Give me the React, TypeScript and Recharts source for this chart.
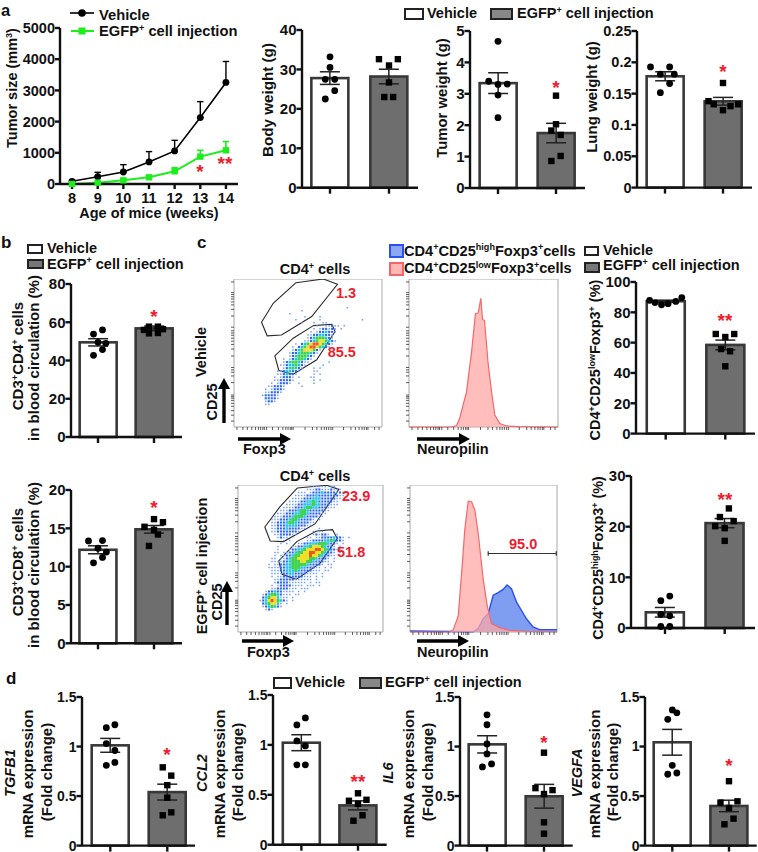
import React from 'react'
import { Area, Bar, ComposedChart, ErrorBar, Line, ReferenceArea, Scatter, XAxis, YAxis } from 'recharts'

const FONT = '"Liberation Sans", Arial, sans-serif'
const INK = '#111'
const RED = '#ee1c2e'
const EDGE = '#383838'
const GREY = '#6e6e6e'
const GREEN = '#1ded1d'

// tumor growth
const weeks = [8, 9, 10, 11, 12, 13, 14]
const vehicleTumor = [86, 235, 385, 706, 1060, 2130, 3255]
const vehicleTumorErr = [40, 140, 235, 332, 340, 510, 672]
const egfpTumor = [0, 43, 118, 214, 406, 877, 1080]
const egfpTumorErr = [0, 30, 40, 50, 118, 203, 280]
const tumorTicks = [0, 1000, 2000, 3000, 4000, 5000]

// bar panels: [vehicle, EGFP]
const bodyMeans = [27.8, 28.2]
const bodySems = [1.6, 1.85]
const bodyVehicle = [[1, 33.2], [1, 30.5], [0.92, 27.5], [1.08, 27.5], [1.08, 24.6], [0.92, 22.5]]
const bodyEgfp = [[1.83, 32.6], [2.15, 32.6], [2, 31], [2, 26.7], [1.92, 23], [2.07, 23]]

const tumorMeans = [3.34, 1.75]
const tumorSems = [0.33, 0.31]
const tumorVehicle = [[1, 4.67], [0.84, 3.4], [1.16, 3.31], [1, 3.3], [1, 2.96], [1, 2.24]]
const tumorEgfp = [[2, 2.94], [2, 2.03], [1.92, 1.83], [2.08, 1.69], [2.08, 1.02], [1.92, 0.86]]

const lungMeans = [0.1777, 0.1378]
const lungSems = [0.0072, 0.0062]
const lungVehicle = [[0.75, 0.1926], [1.08, 0.1926], [0.92, 0.181], [1.16, 0.181], [1.08, 0.166], [0.92, 0.1516]]
const lungEgfp = [[2, 0.167], [1.75, 0.138], [1.84, 0.133], [2.13, 0.13], [2.26, 0.133], [2, 0.1235]]

const cd4Means = [49.5, 56.8]
const cd4Sems = [1.9, 1.2]
const cd4Vehicle = [[0.92, 53.8], [1.08, 56], [1, 49.5], [1.14, 49], [1.08, 45.7], [0.92, 42.7]]
const cd4Egfp = [[1.91, 57.7], [2.07, 57.7], [1.82, 56], [2.16, 56.4], [1.91, 54.2], [2.07, 54.4]]

const cd8Means = [12.2, 14.87]
const cd8Sems = [0.52, 0.5]
const cd8Vehicle = [[0.83, 13.35], [1.08, 13.4], [1, 12.4], [1.15, 11.9], [1.08, 11.2], [0.92, 10.5]]
const cd8Egfp = [[2, 16.2], [2.16, 15.8], [1.83, 15.2], [2, 14.8], [2.07, 14.2], [1.91, 12.7]]

const lowMeans = [87.3, 58.5]
const lowSems = [0.7, 3.2]
const lowVehicle = [[0.73, 87.9], [0.82, 86.4], [0.93, 85], [1.04, 85.7], [1.17, 87.2], [1.27, 89.7]]
const lowEgfp = [[1.84, 65.7], [2.15, 65.7], [2, 63.7], [1.93, 55.8], [2.08, 54.3], [2, 44.4]]

const highMeans = [3.1, 20.7]
const highSems = [0.95, 0.9]
const highVehicle = [[1.08, 6.3], [0.93, 5.4], [0.93, 2.7], [1.08, 2.4], [0.93, 0.3], [1.08, 0.3]]
const highEgfp = [[2.07, 23.6], [1.92, 21.9], [2.15, 21.1], [1.84, 20.1], [2, 19.7], [2, 17.2]]

const tgfMeans = [1.012, 0.54]
const tgfSems = [0.07, 0.08]
const tgfVehicle = [[1.08, 1.22], [0.93, 1.19], [0.93, 1.03], [1.08, 0.96], [1.08, 0.84], [0.93, 0.81]]
const tgfEgfp = [[1.92, 0.79], [2.07, 0.706], [2, 0.61], [2, 0.484], [2.07, 0.336], [1.92, 0.306]]

const cclMeans = [1.022, 0.394]
const cclSems = [0.08, 0.045]
const cclVehicle = [[1.07, 1.27], [0.92, 1.2], [0.92, 1.04], [1.07, 0.99], [0.92, 0.8], [1.07, 0.8]]
const cclEgfp = [[2, 0.515], [2.15, 0.45], [1.84, 0.44], [2, 0.41], [2.08, 0.295], [1.92, 0.24]]

const il6Means = [1.022, 0.498]
const il6Sems = [0.087, 0.12]
const il6Vehicle = [[1, 1.32], [1, 1.22], [1, 1.026], [1, 0.925], [1.08, 0.824], [0.92, 0.794]]
const il6Egfp = [[2, 0.938], [1.85, 0.58], [2.15, 0.56], [2, 0.52], [2, 0.235], [2, 0.12]]

const vegfMeans = [1.043, 0.4]
const vegfSems = [0.13, 0.058]
const vegfVehicle = [[1, 1.37], [1.08, 1.34], [0.92, 1.275], [1, 0.81], [1.08, 0.733], [0.92, 0.72]]
const vegfEgfp = [[2, 0.65], [2.15, 0.447], [1.85, 0.434], [2, 0.38], [2.08, 0.272], [1.92, 0.215]]

// flow plots, read as density per cell: [first column, levels] per row
const flowTopStart = 9
const flowTop: [number, string][] = [
  [37, 'b'], [22, 'b'], [18, 'b'], [23, 'b....b'], [20, 'b.......b.............b'], [22, 'b...b..bb'],
  [27, 'b..bbBbb.b'], [26, 'b.bBBbBb.b'], [25, 'b.bBBcBBb'], [24, 'bbBBccBBb'], [24, 'bBcgggcBb'],
  [23, 'bbBcgyygcBb'], [20, 'b.BcgyrrygcBb'], [19, 'b.BcgyrrygcBb'], [19, 'bBcgyyygBb'], [18, 'bBBcgggcBb'],
  [18, 'bBcgggcBb'], [16, 'b.bBcggcBb'], [16, 'bBcggcBbb......b'], [15, 'bbBccgcBb.....b'], [15, '.bBcgcBb...b.b'],
  [14, 'bbBccBBb....bb'], [14, 'bbBcBBb.....b.b'], [13, 'b.bBBBb.b...bb'], [13, 'bbBBBBb......b.b'], [12, 'b.bBBBb..b....b'],
  [11, 'bbBBBb.....b'], [10, 'b.bBBBb'], [10, 'bbBBBb'], [9, 'bBBBBb'], [10, 'BBBBb'], [10, 'bBBb'], [10, 'bb'],
]
const flowBottomStart = 0
const flowBottom: [number, string][] = [
  [25, 'bbbbb.bb'], [23, 'bbbBBbbbBbbb'], [20, 'bbb.bBBBcBBBBbBbb'], [19, 'bbbbBBBcBBBBBBBbb'], [18, 'bbbbBBBcccBBBBBbb'], [17, 'bbbbBBccgcBBBBBbb'],
  [16, 'bbbbBBcccgccBBBbbb'], [15, 'bbbbBBBcggccBBBbbb'], [14, 'bbbBBBcggcBBBBBbb'], [13, 'bbbBBBccggcBBBBbb'], [12, 'bbbBBBcgggcBBBBbb'],
  [11, 'bbbBBBcggcBBBBb.b'], [11, 'bbBBBcggcBBBBbb'], [11, 'bbBBBccccBBBbb'], [11, 'bbBBBcBBBBbb....b'], [11, 'bbBBBBBBBb....b.bb'],
  [12, 'bbBBBBbb.....bBbBBb..b'], [13, 'bBbb......bb.bbBBBBcBBb.b'], [15, 'b.b.....bbBBBBccgcBBb'], [14, 'b.b...bbBBcccgggcBBb.b'],
  [13, 'b....bbBBccgyyygcBBb.b'], [13, 'b...bBBccgyyyrrygcBBbb'], [12, 'bb.bbBBcggyyrryygcBBb.b'], [12, 'b.bbBBcggyyyryygcBBbb.b'],
  [11, 'bb.bbBcggyyyyggcBBBb.b'], [11, 'bbbbBBcgggyyggcBBBbb.b'], [10, 'b.bbBBccgggggcBBBBb.bb'], [10, 'bbbbBBccgggccBBBbb.b.b'],
  [11, 'bbbBBcccgcBBBBbbb.bb'], [11, 'bbbbBBccBBBBbbbb.b'], [11, 'b.bbBBBBBBBbbb.b.b'], [12, 'bbBBBBBbbbbbb.b'], [12, 'bBBBBbbbbbb.b.bb'],
  [11, 'b.bBBBBbbbb.bbb.b'], [11, 'bbBBBBbbb.bbb'], [9, 'bBBcBBbbbb.b.b'], [8, 'bBcggcBbbb.bb'], [8, 'Bcgyycbbb.b'], [7, 'bBcyrygcBb.b'],
  [8, 'Bcgyycb.b'], [8, 'bBcgcBb'], [9, 'bBb'],
]
const flowCols = 49

const gateTopUpper = [[41.9, 97.5], [60.4, 100], [69.9, 96.4], [52.5, 74.6], [32.1, 62.2], [22.4, 61.6], [18.6, 70.8], [26.5, 83.6], [41.9, 97.5]]
const gateTopLower = [[53.6, 68.5], [66.1, 69.4], [68.3, 64.5], [55.9, 45.4], [40, 35.7], [30.3, 38.2], [27.6, 48.1], [40, 60], [53.6, 68.5]]
const gateBottomUpper = [[41, 98], [61.1, 99.8], [69.6, 97], [53.1, 73.5], [31.4, 61.5], [22.2, 61.9], [18.5, 71.4], [29, 85.3], [41, 98]]
const gateBottomLower = [[54.2, 68.7], [65.2, 69.6], [68.4, 63.7], [56.5, 46.7], [40, 35.8], [30.4, 39.2], [28.1, 48.3], [40.5, 61.5], [54.2, 68.7]]

const logTicksX = [2, 6, 9, 12, 14.5, 16.5, 18, 19.5, 20.5, 22, 26, 30, 33, 35, 36.5, 38, 39, 40, 48, 53, 56, 59, 61, 62.5, 64, 65.5, 66.7, 74, 79, 82, 84.5, 86.5, 88, 89.5, 90.5, 95, 98]
const logTicksY = [4, 8, 11, 14, 16, 18, 19.5, 20.5, 21.6, 30, 34.5, 37, 38.6, 40.2, 48, 52.7, 55.8, 58, 60, 62, 63.5, 65, 67.4, 75, 79.5, 82.5, 84.5, 86.5, 88, 89.5, 90.8, 98]

// neuropilin histograms
const histTopLow = [[0, 0], [28.6, 0], [32, 1], [34, 6], [38.6, 23.7], [42, 50.8], [44.6, 76.7], [46.4, 77], [48.2, 87], [49.3, 73], [50.7, 71.8], [53, 44], [55.4, 23.7], [57.6, 8], [61, 2.3], [65.4, 0.7], [74, 0.2], [100, 0]]
const histBottomLow = [[0, 0], [26.7, 0], [29.4, 1.4], [32.8, 11], [35.5, 45], [37.3, 70], [39.6, 89], [41.9, 88.6], [44.1, 83], [46.4, 67], [49.8, 36], [52.5, 18], [55.4, 5.7], [61, 3], [68, 1.1], [79, 0.5], [100, 0]]
const histBottomHigh = [[0, 0.7], [43, 0.2], [46.4, 2.3], [49.8, 9], [53.2, 12.5], [56.6, 25], [60, 26.8], [63.3, 29], [66, 32], [69, 29.5], [72.4, 20.5], [75.8, 14.8], [79.2, 9], [83.7, 3.4], [88.2, 1.6], [100, 1.6]]
const rangeGate = [[53.2, 51.8], [53.2, 55], [53.2, 53.4], [99.5, 53.4], [99.5, 55], [99.5, 51.8]]

const asPoints = (list: number[][]) => list.map(([x, y]) => ({ x, y }))

const Dot = (props: any) => <circle key={props.index} cx={props.cx} cy={props.cy} r={3.4} fill="#000" />
const Sq = (props: any) => <rect x={props.cx - 3.2} y={props.cy - 3.2} width={6.4} height={6.4} fill="#000" />

const tickStyle = { fontSize: 14.5, fontWeight: 700, fill: INK, fontFamily: FONT }
const axisLine = { stroke: INK, strokeWidth: 2.4 }

function BarPanel({ axisX, top, bottom, right, c1, c2, max, ticks, means, sems, vehicle, egfp, fontSize = 15, barW = 37 }: any) {
  const yw = 44
  const T = 10
  const xh = 10
  const gap = c2 - c1
  const domain = [1 - (c1 - axisX) / gap, 2 + (right - c2) / gap]
  const rows = means.map((m: number, i: number) => ({ x: i + 1, mean: m, sem: sems[i], fill: i ? GREY : '#fff' }))
  return (
    <div style={{ position: 'absolute', left: axisX - yw, top: top - T }}>
      <ComposedChart width={yw + right - axisX} height={T + bottom - top + xh} data={rows} margin={{ top: T, right: 0, bottom: 0, left: 0 }}>
        <XAxis dataKey="x" type="number" domain={domain} ticks={[1, 2]} tickFormatter={() => ''} height={xh} tickSize={6} axisLine={axisLine} tickLine={axisLine} allowDataOverflow />
        <YAxis type="number" domain={[0, max]} ticks={ticks} width={yw} interval={0} tickSize={5.5} tickMargin={0} axisLine={axisLine} tickLine={axisLine} tick={{ ...tickStyle, fontSize }} />
        <Bar dataKey="mean" isAnimationActive={false} shape={(p: any) => <rect x={p.x + p.width / 2 - barW / 2} y={p.y} width={barW} height={p.height} fill={p.payload.fill} stroke={EDGE} strokeWidth={2.6} />}>
          <ErrorBar dataKey="sem" width={10} stroke="#222" strokeWidth={1.5} direction="y" isAnimationActive={false} />
        </Bar>
        <Scatter data={asPoints(vehicle)} dataKey="y" shape={Dot} isAnimationActive={false} />
        <Scatter data={asPoints(egfp)} dataKey="y" shape={Sq} isAnimationActive={false} />
      </ComposedChart>
    </div>
  )
}

function TumorPanel() {
  const rows = weeks.map((w, i) => ({
    week: w,
    vehicle: vehicleTumor[i],
    egfp: egfpTumor[i],
    vErr: [0, vehicleTumorErr[i]],
    eErr: [0, egfpTumorErr[i]],
  }))
  const yw = 50
  return (
    <div style={{ position: 'absolute', left: 60 - yw, top: 18 }}>
      <ComposedChart width={yw + 178} height={10 + 156 + 28} data={rows} margin={{ top: 10, right: 0, bottom: 0, left: 0 }}>
        <XAxis dataKey="week" type="number" domain={[7.53, 14.47]} ticks={weeks} interval={0} height={28} tickSize={5} tickMargin={4} axisLine={axisLine} tickLine={axisLine} tick={tickStyle} allowDataOverflow />
        <YAxis type="number" domain={[0, 5000]} ticks={tumorTicks} width={yw} interval={0} tickSize={5} tickMargin={0} axisLine={axisLine} tickLine={axisLine} tick={tickStyle} />
        <Line dataKey="vehicle" stroke="#000" strokeWidth={1.6} dot={Dot} isAnimationActive={false}>
          <ErrorBar dataKey="vErr" width={3.2} stroke="#000" strokeWidth={1.4} direction="y" isAnimationActive={false} />
        </Line>
        <Line dataKey="egfp" stroke={GREEN} strokeWidth={2} dot={(p: any) => <rect key={p.index} x={p.cx - 3.2} y={p.cy - 3.2} width={6.4} height={6.4} fill={GREEN} />} isAnimationActive={false}>
          <ErrorBar dataKey="eErr" width={3.2} stroke={GREEN} strokeWidth={1.6} direction="y" isAnimationActive={false} />
        </Line>
      </ComposedChart>
    </div>
  )
}

// one scatter per density level, colour by level
const LEVELS: [string, string, number][] = [
  ['b', '#6f9cff', 1.5],
  ['B', '#2c66f2', 2.1],
  ['c', '#25c4e6', 2.6],
  ['g', '#3fd24c', 3],
  ['y', '#eede28', 3],
  ['r', '#f0561e', 3],
]

function cellsFor(rows: [number, string][], startRow: number, level: string) {
  const out: { x: number; y: number }[] = []
  rows.forEach(([col, text], r) => {
    text.split('').forEach((ch, i) => {
      if (ch === level) out.push({ x: ((col + i + 0.5) / flowCols) * 100, y: ((flowCols - startRow - r - 0.5) / flowCols) * 100 })
    })
  })
  return out
}

function FlowFrame({ left, top, width, height, children }: any) {
  const yw = 6
  const xh = 6
  return (
    <div style={{ position: 'absolute', left: left - yw, top }}>
      <ComposedChart width={yw + width + 1} height={height + xh} margin={{ top: 0, right: 1, bottom: 0, left: 0 }} data={[{ x: 0 }]}>
        <XAxis dataKey="x" type="number" domain={[0, 100]} ticks={logTicksX} interval={0} tickFormatter={() => ''} height={xh} tickSize={3} axisLine={false} tickLine={{ stroke: '#333', strokeWidth: 0.8 }} allowDataOverflow />
        <YAxis type="number" domain={[0, 100]} ticks={logTicksY} interval={0} tickFormatter={() => ''} width={yw} tickSize={3} axisLine={false} tickLine={{ stroke: '#333', strokeWidth: 0.8 }} />
        <ReferenceArea x1={0} x2={100} y1={0} y2={100} fill="none" stroke="#a8a8a8" strokeWidth={1} fillOpacity={0} />
        {children}
      </ComposedChart>
    </div>
  )
}

function DotPlot({ left, top, width, height, rows, startRow, gates }: any) {
  return (
    <FlowFrame left={left} top={top} width={width} height={height}>
      {LEVELS.map(([lv, color, size]) => (
        <Scatter
          key={lv}
          data={cellsFor(rows, startRow, lv)}
          dataKey="y"
          isAnimationActive={false}
          shape={(p: any) => <rect x={p.cx - size / 2} y={p.cy - size / 2} width={size} height={size} fill={color} />}
        />
      ))}
      {gates.map((g: number[][], i: number) => (
        <Line key={i} data={asPoints(g)} dataKey="y" stroke="#2a2a2a" strokeWidth={1.1} dot={false} isAnimationActive={false} />
      ))}
    </FlowFrame>
  )
}

const LOW_LINE = '#f2686c'
const LOW_FILL = '#ffa8a6'
const HIGH_LINE = '#2a50f0'
const HIGH_FILL = '#5f86ee'

function Histogram({ left, top, width, height, low, high, range }: any) {
  return (
    <FlowFrame left={left} top={top} width={width} height={height}>
      {high && <Area data={asPoints(high)} dataKey="y" type="linear" stroke={HIGH_LINE} strokeWidth={1.4} fill={HIGH_FILL} fillOpacity={0.8} isAnimationActive={false} />}
      <Area data={asPoints(low)} dataKey="y" type="linear" stroke={LOW_LINE} strokeWidth={1.2} fill={LOW_FILL} fillOpacity={0.75} isAnimationActive={false} />
      {range && <Line data={asPoints(range)} dataKey="y" stroke="#333" strokeWidth={1.2} dot={false} isAnimationActive={false} />}
    </FlowFrame>
  )
}

// "CD3^+^CD4^+^ cells": odd parts are raised
function Rich({ text, size, supSize }: { text: string; size: number; supSize?: number }) {
  const shift = size * 0.36
  const parts = text.split('^')
  return (
    <>
      {parts.map((p, i) =>
        i % 2 ? (
          <tspan key={i} dy={-shift} fontSize={supSize ?? size * 0.62}>{p}</tspan>
        ) : (
          <tspan key={i} dy={i ? shift : 0}>{p}</tspan>
        ),
      )}
    </>
  )
}

function T({ x, y, t, size = 14.5, rot, weight = 700, color = INK, anchor, italic }: any) {
  return (
    <text
      x={x}
      y={y}
      fontSize={size}
      fontWeight={weight}
      fill={color}
      fontStyle={italic ? 'italic' : undefined}
      textAnchor={anchor ?? (rot ? 'middle' : 'start')}
      transform={rot ? `rotate(-90 ${x} ${y})` : undefined}
    >
      <Rich text={t} size={size} />
    </text>
  )
}

function Star({ x, y, t = '*' }: any) {
  return <text x={x} y={y + 9} fontSize={19} fontWeight={700} fill={RED} textAnchor="middle">{t}</text>
}

function Box({ x, y, w, h, fill = '#fff', stroke = '#222' }: any) {
  return <rect x={x} y={y} width={w} height={h} fill={fill} stroke={stroke} strokeWidth={2} />
}

function ArrowH({ x1, x2, y }: any) {
  return (
    <g>
      <line x1={x1} x2={x2 - 9} y1={y} y2={y} stroke="#000" strokeWidth={3.4} />
      <polygon points={`${x2 - 11},${y - 6} ${x2},${y} ${x2 - 11},${y + 6}`} fill="#000" />
    </g>
  )
}

function ArrowV({ x, y1, y2 }: any) {
  return (
    <g>
      <line x1={x} x2={x} y1={y1} y2={y2 + 9} stroke="#000" strokeWidth={3.4} />
      <polygon points={`${x - 6},${y2 + 11} ${x},${y2} ${x + 6},${y2 + 11}`} fill="#000" />
    </g>
  )
}

const EGFP = 'EGFP^+^ cell injection'

export default function App() {
  return (
    <div style={{ position: 'absolute', left: 0, top: 0, width: 758, height: 852, background: '#fff', overflow: 'hidden', fontFamily: FONT }}>
      <TumorPanel />
      <BarPanel axisX={302} top={30} bottom={187.7} right={418} c1={330} c2={389} max={40} ticks={[0, 10, 20, 30, 40]} means={bodyMeans} sems={bodySems} vehicle={bodyVehicle} egfp={bodyEgfp} />
      <BarPanel axisX={470} top={30.7} bottom={187.7} right={585} c1={498} c2={556} max={5} ticks={[0, 1, 2, 3, 4, 5]} means={tumorMeans} sems={tumorSems} vehicle={tumorVehicle} egfp={tumorEgfp} />
      <BarPanel axisX={637} top={30.7} bottom={187.3} right={752} c1={665} c2={723} max={0.25} ticks={[0, 0.05, 0.1, 0.15, 0.2, 0.25]} means={lungMeans} sems={lungSems} vehicle={lungVehicle} egfp={lungEgfp} fontSize={14.5} />

      <BarPanel axisX={71} top={284.3} bottom={437.3} right={182} c1={98} c2={154} max={80} ticks={[0, 20, 40, 60, 80]} means={cd4Means} sems={cd4Sems} vehicle={cd4Vehicle} egfp={cd4Egfp} />
      <BarPanel axisX={71} top={490} bottom={643.3} right={182} c1={98} c2={154} max={20} ticks={[0, 5, 10, 15, 20]} means={cd8Means} sems={cd8Sems} vehicle={cd8Vehicle} egfp={cd8Egfp} />

      <DotPlot left={234} top={279} width={148} height={148} rows={flowTop} startRow={flowTopStart} gates={[gateTopUpper, gateTopLower]} />
      <Histogram left={409} top={279} width={149} height={148} low={histTopLow} />
      <DotPlot left={238} top={485} width={145} height={147} rows={flowBottom} startRow={flowBottomStart} gates={[gateBottomUpper, gateBottomLower]} />
      <Histogram left={410} top={485} width={147} height={147} low={histBottomLow} high={histBottomHigh} range={rangeGate} />

      <BarPanel axisX={636} top={281.7} bottom={433.3} right={755} c1={665.7} c2={725.3} max={100} ticks={[0, 20, 40, 60, 80, 100]} means={lowMeans} sems={lowSems} vehicle={lowVehicle} egfp={lowEgfp} barW={38} />
      <BarPanel axisX={631} top={475.7} bottom={627.7} right={755} c1={665} c2={724.7} max={30} ticks={[0, 10, 20, 30]} means={highMeans} sems={highSems} vehicle={highVehicle} egfp={highEgfp} barW={38} />

      <BarPanel axisX={81.7} top={696.7} bottom={845.3} right={195} c1={110} c2={167} max={1.5} ticks={[0, 0.5, 1, 1.5]} means={tgfMeans} sems={tgfSems} vehicle={tgfVehicle} egfp={tgfEgfp} fontSize={14} />
      <BarPanel axisX={273.3} top={695} bottom={844.7} right={387} c1={301.7} c2={358.3} max={1.5} ticks={[0, 0.5, 1, 1.5]} means={cclMeans} sems={cclSems} vehicle={cclVehicle} egfp={cclEgfp} fontSize={14} />
      <BarPanel axisX={460} top={696.7} bottom={845.3} right={572.7} c1={487} c2={544} max={1.5} ticks={[0, 0.5, 1, 1.5]} means={il6Means} sems={il6Sems} vehicle={il6Vehicle} egfp={il6Egfp} fontSize={14} />
      <BarPanel axisX={645} top={696.7} bottom={845.3} right={756.7} c1={672.3} c2={729} max={1.5} ticks={[0, 0.5, 1, 1.5]} means={vegfMeans} sems={vegfSems} vehicle={vegfVehicle} egfp={vegfEgfp} fontSize={14} />

      <svg width={758} height={852} style={{ position: 'absolute', left: 0, top: 0, pointerEvents: 'none' }} fontFamily={FONT}>
        <T x={1} y={15.5} t="a" size={16.5} />
        <T x={1} y={248} t="b" size={17} />
        <T x={197} y={248} t="c" size={17} />
        <T x={6} y={684} t="d" size={17} />

        {/* a legends and labels */}
        <line x1={70} x2={94} y1={13} y2={13} stroke="#000" strokeWidth={1.6} />
        <circle cx={82} cy={13} r={3.8} fill="#000" />
        <line x1={71} x2={94} y1={31} y2={31} stroke={GREEN} strokeWidth={2} />
        <rect x={78.5} y={27.5} width={7} height={7} fill={GREEN} />
        <T x={99} y={20} t="Vehicle" size={14.7} />
        <T x={99} y={36} t={EGFP} size={14.7} />
        <T x={17} y={88} t="Tumor size (mm^3^)" rot size={14.5} />
        <T x={149} y={218} t="Age of mice (weeks)" anchor="middle" />
        <T x={273} y={100} t="Body weight (g)" rot size={15.2} />
        <T x={447} y={98} t="Tumor weight (g)" rot size={14.9} />
        <T x={597} y={97} t="Lung  weight (g)" rot size={15} />
        <Box x={405} y={9} w={18} h={10} />
        <T x={427} y={18} t="Vehicle" />
        <Box x={491} y={9} w={21} h={10} fill="#888" />
        <T x={517} y={18} t={EGFP} />
        <Star x={200} y={169} />
        <Star x={225} y={161} t="**" />
        <Star x={556} y={85} />
        <Star x={723} y={69} />

        {/* b */}
        <Box x={28} y={245} w={14} h={8} />
        <T x={47} y={253} t="Vehicle" />
        <Box x={28} y={260} w={15} h={8} fill="#777" />
        <T x={47} y={268.5} t={EGFP} />
        <T x={23} y={356} t="CD3^+^CD4^+^ cells" rot size={15} />
        <T x={39} y={358} t="in blood circulation (%)" rot size={15} />
        <T x={23} y={562} t="CD3^+^CD8^+^ cells" rot size={15} />
        <T x={39} y={565} t="in blood circulation (%)" rot size={15} />
        <Star x={154} y={314} />
        <Star x={154} y={505} />

        {/* c */}
        <T x={315} y={274} t="CD4^+^ cells" anchor="middle" />
        <T x={315} y={481} t="CD4^+^ cells" anchor="middle" />
        <Box x={390} y={245} w={13} h={12} fill="#8ca8f5" stroke="#2a50f0" />
        <Box x={390} y={263} w={13} h={12} fill="#ffb8b4" stroke="#f0666a" />
        <T x={404} y={255.7} t="CD4^+^CD25^high^Foxp3^+^cells" size={14.6} />
        <T x={404} y={273} t="CD4^+^CD25^low^Foxp3^+^cells" size={14.6} />
        <Box x={585} y={247} w={13} h={8} />
        <T x={603} y={255} t="Vehicle" />
        <Box x={585} y={263} w={14} h={9} fill="#777" />
        <T x={603} y={270} t={EGFP} />
        <T x={206} y={352} t="Vehicle" rot />
        <T x={217} y={402} t="CD25" rot />
        <ArrowV x={224} y1={423} y2={378} />
        <ArrowH x1={238} x2={291} y={439} />
        <T x={243} y={454} t="Foxp3" />
        <ArrowH x1={417} x2={470} y={439} />
        <T x={417} y={454} t="Neuropilin" />
        <T x={207} y={566} t={EGFP} rot />
        <T x={222} y={602} t="CD25" rot />
        <ArrowV x={227} y1={625} y2={581} />
        <ArrowH x1={242} x2={294} y={641} />
        <T x={247} y={657} t="Foxp3" />
        <ArrowH x1={417} x2={469} y={641} />
        <T x={417} y={657} t="Neuropilin" />
        <T x={336} y={298} t="1.3" color={RED} />
        <T x={327.7} y={357} t="85.5" color={RED} />
        <T x={342} y={501} t="23.9" color={RED} />
        <T x={337} y={557} t="51.8" color={RED} />
        <T x={509} y={549} t="95.0" color={RED} />
        <T x={600} y={360} t="CD4^+^CD25^low^Foxp3^+^ (%)" rot size={14.5} />
        <T x={603} y={558} t="CD4^+^CD25^high^Foxp3^+^ (%)" rot size={14.4} />
        <Star x={725} y={318} t="**" />
        <Star x={725} y={497} t="**" />

        {/* d */}
        <Box x={274} y={678} w={17} h={10} />
        <T x={295} y={687} t="Vehicle" />
        <Box x={360} y={678} w={21} h={10} fill="#888" />
        <T x={385} y={687} t={EGFP} />
        {[
          ['TGFB1', 15, 33, 52, 167, 752],
          ['CCL2', 207, 225, 243, 358, 779],
          ['IL6', 393, 414, 433, 544, 740],
          ['VEGFA', 582, 600, 618, 729, 763],
        ].map(([gene, x0, x1, x2, sx, sy]: any) => (
          <g key={gene}>
            <T x={x0} y={773} t={gene} rot size={14.5} italic />
            <T x={x1} y={774} t="mRNA expression" rot size={15} />
            <T x={x2} y={772} t="(Fold change)" rot size={15} />
            <Star x={sx} y={sy} t={gene === 'CCL2' ? '**' : '*'} />
          </g>
        ))}
      </svg>
    </div>
  )
}
